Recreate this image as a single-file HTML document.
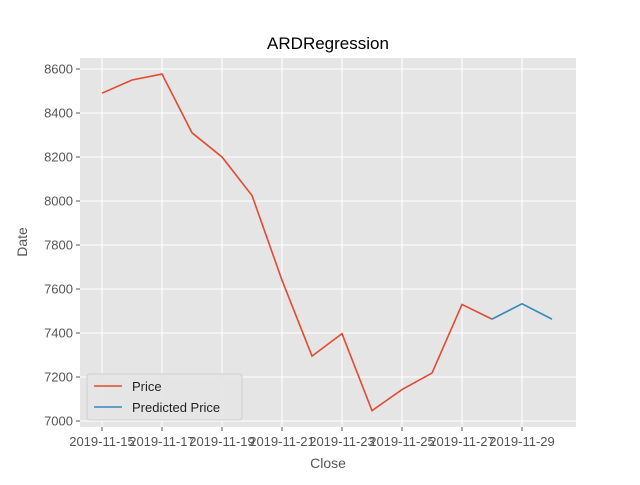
<!DOCTYPE html>
<html><head><meta charset="utf-8"><style>
body{margin:0;background:#fff;font-family:"Liberation Sans","DejaVu Sans",sans-serif}
</style></head><body>
<svg width="640" height="480" xmlns="http://www.w3.org/2000/svg">
<rect x="0" y="0" width="640" height="480" fill="#fff"/>
<rect x="80" y="58" width="496" height="369" fill="#e5e5e5"/>
<g id="grid"></g><g id="ticks"></g><g id="lines"></g>
<text x="328" y="49" font-size="17" text-anchor="middle" fill="#000">ARDRegression</text>
<text x="328" y="468" font-size="14" text-anchor="middle" fill="#555">Close</text>
<text x="27" y="242" font-size="14" text-anchor="middle" fill="#555" transform="rotate(-90 27 242)">Date</text>
<g>
<rect x="87" y="374" width="155" height="46" rx="3" fill="#e5e5e5" stroke="#ccc" stroke-width="1" opacity="0.9"/>
<line x1="94" y1="386" x2="122" y2="386" stroke="#E24A33" stroke-width="1.6"/>
<text x="132" y="391" font-size="13" fill="#222">Price</text>
<line x1="94" y1="407" x2="122" y2="407" stroke="#348ABD" stroke-width="1.6"/>
<text x="132" y="412" font-size="13" fill="#222">Predicted Price</text>
</g>
</svg>
<script>
const priceDays=[0,1,2,3,4,5,6,7,8,9,10,11,12,13];
const priceValues=[8490,8550,8577,8310,8200,8025,7640,7295,7397,7047,7143,7218,7530,7463];
const predDays=[13,14,15];
const predValues=[7463,7533,7463];
const xTickDays=[0,2,4,6,8,10,12,14];
const xTickLabels=["2019-11-15","2019-11-17","2019-11-19","2019-11-21","2019-11-23","2019-11-25","2019-11-27","2019-11-29"];
const yTicks=[7000,7200,7400,7600,7800,8000,8200,8400,8600];
const NS="http://www.w3.org/2000/svg";
const X=d=>102+d*30;
const Y=v=>421-(v-7000)*0.22;
const grid=document.getElementById('grid'),ticks=document.getElementById('ticks'),lines=document.getElementById('lines');
function mk(t,a,p){const e=document.createElementNS(NS,t);for(const k in a)e.setAttribute(k,a[k]);p.appendChild(e);return e;}
yTicks.forEach(v=>{
 const g=mk('line',{x1:80,x2:576,y1:Y(v),y2:Y(v),stroke:'#fff','stroke-width':1},grid);
 
 
 mk('line',{x1:76,x2:80,y1:Y(v),y2:Y(v),stroke:'#555'},ticks);
 const t=mk('text',{x:73,y:Y(v)+4.5,'font-size':13,'text-anchor':'end',fill:'#555'},ticks);
 t.textContent=v;
 
 
});
xTickDays.forEach((d,i)=>{
 const g=mk('line',{x1:X(d),x2:X(d),y1:58,y2:427,stroke:'#fff','stroke-width':1},grid);
 
 
 mk('line',{x1:X(d),x2:X(d),y1:427,y2:431,stroke:'#555'},ticks);
 const t=mk('text',{x:X(d),y:446,'font-size':13,'text-anchor':'middle',fill:'#555'},ticks);
 t.textContent=xTickLabels[i];
 
 
});
const p1=mk('polyline',{points:priceDays.map((d,i)=>X(d)+','+Y(priceValues[i])).join(' '),fill:'none',stroke:'#E24A33','stroke-width':1.6},lines);


const p2=mk('polyline',{points:predDays.map((d,i)=>X(d)+','+Y(predValues[i])).join(' '),fill:'none',stroke:'#348ABD','stroke-width':1.6},lines);


</script>
</body></html>
